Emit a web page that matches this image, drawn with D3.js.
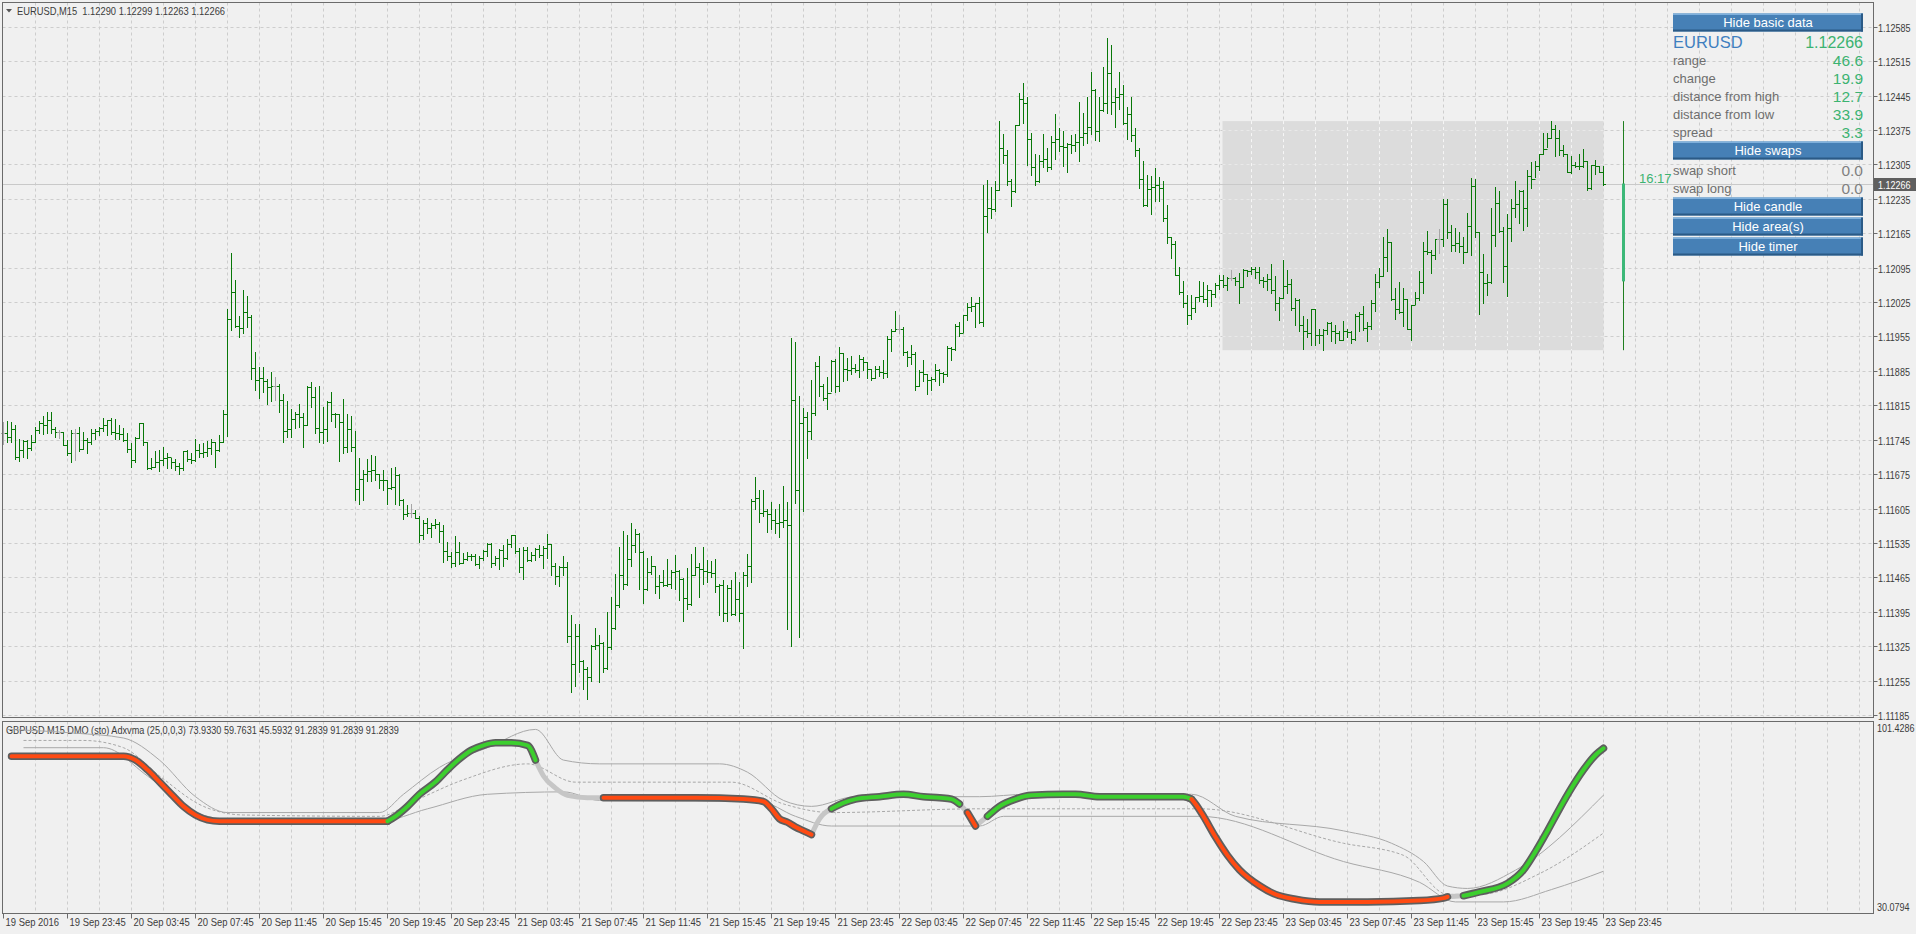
<!DOCTYPE html>
<html><head><meta charset="utf-8">
<script src="https://cdn.jsdelivr.net/npm/d3@7"></script>
<style>
body{margin:0;background:#f0f0f0;overflow:hidden}
.ax{font-family:"Liberation Sans",Arial,sans-serif;font-size:11px;fill:#3c3c3c}
.pn{font-family:"Liberation Sans",Arial,sans-serif}
</style></head><body>
<svg id="c" width="1916" height="934"></svg>
<script>
// ---------- DATA ----------
const symbolTitle = "EURUSD,M15\u00a0\u00a01.12290 1.12299 1.12263 1.12266";
const indTitle = "GBPUSD M15 DMO (sto) Adxvma (25,0,0,3) 73.9330 59.7631 45.5932 91.2839 91.2839 91.2839";
const priceTicks = [1.12585,1.12515,1.12445,1.12375,1.12305,1.12235,1.12165,1.12095,1.12025,1.11955,1.11885,1.11815,1.11745,1.11675,1.11605,1.11535,1.11465,1.11395,1.11325,1.11255,1.11185];
const timeLabels = ["19 Sep 2016","19 Sep 23:45","20 Sep 03:45","20 Sep 07:45","20 Sep 11:45","20 Sep 15:45","20 Sep 19:45","20 Sep 23:45","21 Sep 03:45","21 Sep 07:45","21 Sep 11:45","21 Sep 15:45","21 Sep 19:45","21 Sep 23:45","22 Sep 03:45","22 Sep 07:45","22 Sep 11:45","22 Sep 15:45","22 Sep 19:45","22 Sep 23:45","23 Sep 03:45","23 Sep 07:45","23 Sep 11:45","23 Sep 15:45","23 Sep 19:45","23 Sep 23:45"];
const timeLabelBars = [0,16,32,48,64,80,96,112,128,144,160,176,192,208,224,240,256,272,288,304,320,336,352,368,384,400];

const barHigh = [1.11781,1.11783,1.11781,1.11775,1.11746,1.11745,1.11744,1.11754,1.11771,1.11784,1.11793,1.11801,1.11801,1.11771,1.11765,1.11760,1.11744,1.11765,1.11767,1.11771,1.11761,1.11749,1.11767,1.11767,1.11771,1.11789,1.11786,1.11790,1.11787,1.11775,1.11768,1.11759,1.11739,1.11750,1.11779,1.11779,1.11740,1.11707,1.11721,1.11724,1.11730,1.11717,1.11708,1.11706,1.11697,1.11722,1.11724,1.11717,1.11746,1.11736,1.11738,1.11743,1.11747,1.11741,1.11754,1.11805,1.12010,1.12124,1.12070,1.11996,1.12049,1.12038,1.11998,1.11923,1.11892,1.11893,1.11868,1.11882,1.11872,1.11858,1.11838,1.11823,1.11807,1.11802,1.11817,1.11800,1.11854,1.11862,1.11853,1.11854,1.11811,1.11823,1.11842,1.11800,1.11798,1.11828,1.11797,1.11793,1.11763,1.11707,1.11683,1.11705,1.11714,1.11712,1.11676,1.11683,1.11664,1.11687,1.11689,1.11676,
1.11625,1.11613,1.11615,1.11601,1.11589,1.11582,1.11586,1.11575,1.11583,1.11577,1.11571,1.11536,1.11516,1.11550,1.11536,1.11515,1.11517,1.11513,1.11513,1.11508,1.11520,1.11535,1.11535,1.11509,1.11522,1.11531,1.11543,1.11552,1.11552,1.11525,1.11527,1.11527,1.11516,1.11525,1.11530,1.11529,1.11554,1.11533,1.11494,1.11489,1.11509,1.11496,1.11388,1.11371,1.11371,1.11296,1.11283,1.11328,1.11362,1.11347,1.11333,1.11394,1.11425,1.11471,1.11527,1.11559,1.11552,1.11576,1.11563,1.11556,1.11518,1.11505,1.11509,1.11489,1.11469,1.11479,1.11502,1.11479,1.11510,1.11480,1.11464,1.11485,1.11513,1.11527,1.11495,1.11527,1.11500,1.11498,1.11502,1.11452,1.11460,1.11449,1.11460,1.11475,1.11456,1.11475,1.11513,1.11625,1.11669,1.11643,1.11643,1.11605,1.11618,1.11603,1.11615,1.11650,1.11618,1.11952,1.11944,1.11833,
1.11809,1.11801,1.11867,1.11902,1.11915,1.11859,1.11873,1.11907,1.11910,1.11934,1.11921,1.11911,1.11915,1.11899,1.11917,1.11913,1.11903,1.11889,1.11895,1.11895,1.11907,1.11955,1.11971,1.12006,1.11999,1.11974,1.11925,1.11937,1.11923,1.11886,1.11907,1.11879,1.11873,1.11899,1.11889,1.11883,1.11935,1.11933,1.11980,1.11984,1.11999,1.12024,1.12035,1.12024,1.12035,1.12263,1.12274,1.12258,1.12271,1.12394,1.12367,1.12335,1.12276,1.12385,1.12450,1.12471,1.12441,1.12369,1.12327,1.12324,1.12367,1.12338,1.12362,1.12407,1.12378,1.12373,1.12348,1.12364,1.12366,1.12431,1.12410,1.12442,1.12492,1.12458,1.12442,1.12503,1.12561,1.12548,1.12461,1.12492,1.12467,1.12421,1.12442,1.12378,1.12338,1.12312,1.12284,1.12282,1.12298,1.12280,1.12271,1.12222,1.12158,1.12150,1.12096,1.12068,1.12040,1.12040,1.12035,1.12067,
1.12066,1.12059,1.12050,1.12064,1.12079,1.12079,1.12076,1.12091,1.12076,1.12085,1.12093,1.12091,1.12096,1.12097,1.12096,1.12076,1.12082,1.12103,1.12077,1.12035,1.12110,1.12091,1.12072,1.12034,1.12031,1.11996,1.11990,1.12011,1.12011,1.11970,1.11970,1.11985,1.11984,1.11979,1.11967,1.11986,1.11970,1.11967,1.12001,1.12004,1.12016,1.11984,1.12030,1.12082,1.12095,1.12158,1.12174,1.12147,1.12053,1.12065,1.12054,1.12032,1.12019,1.12046,1.12089,1.12147,1.12169,1.12131,1.12154,1.12173,1.12234,1.12234,1.12181,1.12176,1.12167,1.12157,1.12207,1.12278,1.12275,1.12167,1.12122,1.12082,1.12217,1.12259,1.12251,1.12177,1.12205,1.12235,1.12271,1.12252,1.12252,1.12294,1.12310,1.12312,1.12327,1.12369,1.12369,1.12393,1.12385,1.12374,1.12344,1.12327,1.12323,1.12310,1.12327,1.12337,1.12311,1.12304,1.12314,1.12301,
1.12301];

const barLow = [1.11737,1.11740,1.11741,1.11705,1.11702,1.11709,1.11708,1.11725,1.11740,1.11758,1.11756,1.11759,1.11758,1.11751,1.11748,1.11735,1.11713,1.11700,1.11703,1.11721,1.11726,1.11718,1.11737,1.11746,1.11755,1.11763,1.11754,1.11757,1.11746,1.11746,1.11743,1.11720,1.11690,1.11700,1.11748,1.11735,1.11685,1.11685,1.11690,1.11682,1.11694,1.11688,1.11688,1.11683,1.11676,1.11683,1.11701,1.11698,1.11701,1.11709,1.11709,1.11712,1.11716,1.11690,1.11722,1.11740,1.11752,1.11969,1.11975,1.11953,1.11962,1.11975,1.11869,1.11846,1.11830,1.11842,1.11817,1.11823,1.11826,1.11802,1.11741,1.11750,1.11751,1.11768,1.11770,1.11731,1.11775,1.11812,1.11759,1.11740,1.11739,1.11743,1.11784,1.11771,1.11701,1.11718,1.11720,1.11721,1.11622,1.11615,1.11622,1.11661,1.11660,1.11663,1.11646,1.11642,1.11615,1.11644,1.11615,1.11612,
1.11584,1.11589,1.11588,1.11586,1.11537,1.11543,1.11556,1.11548,1.11566,1.11537,1.11496,1.11500,1.11486,1.11488,1.11493,1.11494,1.11500,1.11500,1.11491,1.11483,1.11501,1.11508,1.11486,1.11490,1.11482,1.11489,1.11502,1.11527,1.11514,1.11476,1.11462,1.11498,1.11498,1.11500,1.11506,1.11485,1.11505,1.11470,1.11451,1.11448,1.11470,1.11333,1.11232,1.11245,1.11272,1.11238,1.11218,1.11255,1.11320,1.11252,1.11272,1.11278,1.11320,1.11360,1.11405,1.11442,1.11450,1.11489,1.11516,1.11442,1.11413,1.11440,1.11472,1.11433,1.11423,1.11447,1.11448,1.11443,1.11442,1.11418,1.11376,1.11401,1.11409,1.11469,1.11425,1.11451,1.11455,1.11466,1.11435,1.11388,1.11377,1.11376,1.11388,1.11389,1.11377,1.11321,1.11447,1.11455,1.11603,1.11577,1.11590,1.11557,1.11564,1.11555,1.11547,1.11567,1.11360,1.11325,1.11616,1.11344,
1.11600,1.11708,1.11747,1.11795,1.11833,1.11825,1.11807,1.11843,1.11841,1.11843,1.11865,1.11867,1.11879,1.11883,1.11873,1.11886,1.11870,1.11867,1.11870,1.11874,1.11871,1.11873,1.11926,1.11967,1.11961,1.11918,1.11895,1.11899,1.11847,1.11854,1.11865,1.11838,1.11846,1.11865,1.11857,1.11863,1.11875,1.11907,1.11927,1.11956,1.11964,1.11988,1.12006,1.11974,1.11982,1.11976,1.12168,1.12196,1.12210,1.12252,1.12308,1.12263,1.12221,1.12248,1.12385,1.12389,1.12304,1.12284,1.12264,1.12269,1.12300,1.12292,1.12295,1.12316,1.12332,1.12302,1.12290,1.12328,1.12332,1.12312,1.12344,1.12348,1.12367,1.12354,1.12352,1.12413,1.12409,1.12407,1.12382,1.12417,1.12388,1.12356,1.12352,1.12322,1.12256,1.12220,1.12220,1.12204,1.12231,1.12231,1.12190,1.12146,1.12115,1.12080,1.12041,1.12015,1.11981,1.11991,1.12005,1.12028,
1.12025,1.12016,1.12016,1.12035,1.12051,1.12055,1.12049,1.12069,1.12059,1.12023,1.12055,1.12078,1.12082,1.12074,1.12064,1.12055,1.12049,1.12043,1.12008,1.11988,1.12034,1.12043,1.12009,1.11979,1.11967,1.11929,1.11954,1.11937,1.11937,1.11941,1.11927,1.11960,1.11945,1.11941,1.11947,1.11947,1.11954,1.11941,1.11947,1.11967,1.11968,1.11945,1.11971,1.12006,1.12055,1.12077,1.12088,1.12030,1.11990,1.12002,1.11977,1.11970,1.11947,1.12020,1.12030,1.12043,1.12122,1.12084,1.12113,1.12125,1.12138,1.12156,1.12129,1.12129,1.12127,1.12104,1.12127,1.12120,1.12157,1.12001,1.12024,1.12040,1.12064,1.12139,1.12167,1.12066,1.12038,1.12150,1.12198,1.12186,1.12171,1.12179,1.12257,1.12279,1.12294,1.12327,1.12340,1.12359,1.12323,1.12325,1.12321,1.12289,1.12287,1.12299,1.12296,1.12299,1.12253,1.12255,1.12286,1.12289,
1.12264];

const barClose = [1.11759,1.11750,1.11767,1.11710,1.11723,1.11743,1.11729,1.11740,1.11764,1.11778,1.11775,1.11786,1.11766,1.11760,1.11760,1.11735,1.11718,1.11759,1.11759,1.11727,1.11744,1.11741,1.11758,1.11763,1.11769,1.11774,1.11785,1.11760,1.11759,1.11756,1.11744,1.11727,1.11703,1.11748,1.11778,1.11740,1.11687,1.11690,1.11700,1.11703,1.11707,1.11709,1.11699,1.11691,1.11687,1.11721,1.11705,1.11703,1.11725,1.11717,1.11720,1.11729,1.11741,1.11724,1.11741,1.11797,1.11990,1.12046,1.11976,1.11973,1.12005,1.11995,1.11890,1.11866,1.11871,1.11864,1.11852,1.11855,1.11855,1.11825,1.11762,1.11766,1.11788,1.11798,1.11792,1.11775,1.11852,1.11831,1.11768,1.11760,1.11767,1.11821,1.11798,1.11797,1.11780,1.11731,1.11767,1.11731,1.11644,1.11665,1.11676,1.11682,1.11683,1.11675,1.11663,1.11664,1.11646,1.11649,1.11674,1.11622,
1.11594,1.11596,1.11596,1.11586,1.11552,1.11576,1.11565,1.11572,1.11573,1.11560,1.11519,1.11509,1.11495,1.11516,1.11495,1.11503,1.11509,1.11508,1.11493,1.11505,1.11518,1.11533,1.11495,1.11505,1.11521,1.11505,1.11532,1.11551,1.11518,1.11486,1.11520,1.11500,1.11511,1.11523,1.11511,1.11525,1.11532,1.11489,1.11467,1.11486,1.11487,1.11345,1.11289,1.11345,1.11294,1.11279,1.11262,1.11326,1.11328,1.11331,1.11280,1.11323,1.11362,1.11408,1.11469,1.11452,1.11503,1.11531,1.11554,1.11516,1.11442,1.11475,1.11489,1.11447,1.11455,1.11449,1.11451,1.11476,1.11478,1.11462,1.11423,1.11411,1.11470,1.11486,1.11482,1.11478,1.11476,1.11473,1.11447,1.11449,1.11393,1.11444,1.11391,1.11421,1.11393,1.11469,1.11489,1.11620,1.11627,1.11596,1.11599,1.11594,1.11581,1.11575,1.11577,1.11581,1.11571,1.11826,1.11643,1.11779,
1.11791,1.11763,1.11799,1.11895,1.11855,1.11830,1.11839,1.11905,1.11855,1.11921,1.11889,1.11886,1.11890,1.11886,1.11910,1.11903,1.11889,1.11870,1.11889,1.11882,1.11881,1.11949,1.11967,1.11970,1.11970,1.11923,1.11913,1.11919,1.11854,1.11882,1.11878,1.11867,1.11868,1.11886,1.11881,1.11879,1.11931,1.11929,1.11977,1.11963,1.11998,1.12014,1.12017,1.12022,1.11985,1.12199,1.12216,1.12215,1.12253,1.12338,1.12324,1.12272,1.12250,1.12385,1.12437,1.12429,1.12356,1.12300,1.12272,1.12312,1.12316,1.12300,1.12351,1.12356,1.12343,1.12340,1.12346,1.12344,1.12351,1.12360,1.12369,1.12380,1.12457,1.12373,1.12415,1.12429,1.12490,1.12431,1.12441,1.12449,1.12389,1.12407,1.12365,1.12334,1.12275,1.12222,1.12255,1.12258,1.12263,1.12256,1.12195,1.12157,1.12144,1.12080,1.12045,1.12023,1.11998,1.12013,1.12035,1.12037,
1.12032,1.12049,1.12042,1.12059,1.12070,1.12059,1.12074,1.12074,1.12068,1.12055,1.12091,1.12088,1.12093,1.12086,1.12070,1.12068,1.12071,1.12049,1.12024,1.12034,1.12057,1.12062,1.12013,1.12030,1.11979,1.11967,1.11962,1.12011,1.11958,1.11957,1.11968,1.11983,1.11967,1.11962,1.11948,1.11967,1.11965,1.11949,1.11997,1.12001,1.11972,1.11976,1.12022,1.12065,1.12077,1.12116,1.12147,1.12032,1.12011,1.12004,1.12032,1.11971,1.12019,1.12034,1.12066,1.12128,1.12126,1.12121,1.12154,1.12154,1.12225,1.12167,1.12141,1.12145,1.12139,1.12127,1.12179,1.12261,1.12167,1.12087,1.12064,1.12066,1.12162,1.12227,1.12169,1.12099,1.12176,1.12217,1.12225,1.12251,1.12216,1.12282,1.12276,1.12301,1.12327,1.12336,1.12359,1.12377,1.12359,1.12335,1.12327,1.12290,1.12303,1.12301,1.12302,1.12311,1.12257,1.12303,1.12302,1.12289,
1.12266];

const barOpen = [1.11759,1.11759,1.11750,1.11767,1.11710,1.11723,1.11743,1.11729,1.11740,1.11764,1.11778,1.11775,1.11786,1.11766,1.11760,1.11760,1.11735,1.11718,1.11759,1.11759,1.11727,1.11744,1.11741,1.11758,1.11763,1.11769,1.11774,1.11785,1.11760,1.11759,1.11756,1.11744,1.11727,1.11703,1.11748,1.11778,1.11740,1.11687,1.11690,1.11700,1.11703,1.11707,1.11709,1.11699,1.11691,1.11687,1.11721,1.11705,1.11703,1.11725,1.11717,1.11720,1.11729,1.11741,1.11724,1.11741,1.11797,1.11990,1.12046,1.11976,1.11973,1.12005,1.11995,1.11890,1.11866,1.11871,1.11864,1.11852,1.11855,1.11855,1.11825,1.11762,1.11766,1.11788,1.11798,1.11792,1.11775,1.11852,1.11831,1.11768,1.11760,1.11767,1.11821,1.11798,1.11797,1.11780,1.11731,1.11767,1.11731,1.11644,1.11665,1.11676,1.11682,1.11683,1.11675,1.11663,1.11664,1.11646,1.11649,1.11674,
1.11622,1.11594,1.11596,1.11596,1.11586,1.11552,1.11576,1.11565,1.11572,1.11573,1.11560,1.11519,1.11509,1.11495,1.11516,1.11495,1.11503,1.11509,1.11508,1.11493,1.11505,1.11518,1.11533,1.11495,1.11505,1.11521,1.11505,1.11532,1.11551,1.11518,1.11486,1.11520,1.11500,1.11511,1.11523,1.11511,1.11525,1.11532,1.11489,1.11467,1.11486,1.11487,1.11345,1.11289,1.11345,1.11294,1.11279,1.11262,1.11326,1.11328,1.11331,1.11280,1.11323,1.11362,1.11408,1.11469,1.11452,1.11503,1.11531,1.11554,1.11516,1.11442,1.11475,1.11489,1.11447,1.11455,1.11449,1.11451,1.11476,1.11478,1.11462,1.11423,1.11411,1.11470,1.11486,1.11482,1.11478,1.11476,1.11473,1.11447,1.11449,1.11393,1.11444,1.11391,1.11421,1.11393,1.11469,1.11489,1.11620,1.11627,1.11596,1.11599,1.11594,1.11581,1.11575,1.11577,1.11581,1.11571,1.11826,1.11643,
1.11779,1.11791,1.11763,1.11799,1.11895,1.11855,1.11830,1.11839,1.11905,1.11855,1.11921,1.11889,1.11886,1.11890,1.11886,1.11910,1.11903,1.11889,1.11870,1.11889,1.11882,1.11881,1.11949,1.11967,1.11970,1.11970,1.11923,1.11913,1.11919,1.11854,1.11882,1.11878,1.11867,1.11868,1.11886,1.11881,1.11879,1.11931,1.11929,1.11977,1.11963,1.11998,1.12014,1.12017,1.12022,1.11985,1.12199,1.12216,1.12215,1.12253,1.12338,1.12324,1.12272,1.12250,1.12385,1.12437,1.12429,1.12356,1.12300,1.12272,1.12312,1.12316,1.12300,1.12351,1.12356,1.12343,1.12340,1.12346,1.12344,1.12351,1.12360,1.12369,1.12380,1.12457,1.12373,1.12415,1.12429,1.12490,1.12431,1.12441,1.12449,1.12389,1.12407,1.12365,1.12334,1.12275,1.12222,1.12255,1.12258,1.12263,1.12256,1.12195,1.12157,1.12144,1.12080,1.12045,1.12023,1.11998,1.12013,1.12035,
1.12037,1.12032,1.12049,1.12042,1.12059,1.12070,1.12059,1.12074,1.12074,1.12068,1.12055,1.12091,1.12088,1.12093,1.12086,1.12070,1.12068,1.12071,1.12049,1.12024,1.12034,1.12057,1.12062,1.12013,1.12030,1.11979,1.11967,1.11962,1.12011,1.11958,1.11957,1.11968,1.11983,1.11967,1.11962,1.11948,1.11967,1.11965,1.11949,1.11997,1.12001,1.11972,1.11976,1.12022,1.12065,1.12077,1.12116,1.12147,1.12032,1.12011,1.12004,1.12032,1.11971,1.12019,1.12034,1.12066,1.12128,1.12126,1.12121,1.12154,1.12154,1.12225,1.12167,1.12141,1.12145,1.12139,1.12127,1.12179,1.12261,1.12167,1.12087,1.12064,1.12066,1.12162,1.12227,1.12169,1.12099,1.12176,1.12217,1.12225,1.12251,1.12216,1.12282,1.12276,1.12301,1.12327,1.12336,1.12359,1.12377,1.12359,1.12335,1.12327,1.12290,1.12303,1.12301,1.12302,1.12311,1.12257,1.12303,1.12302,
1.12289];

// daily candle / area (today)
const dayBar = 405, areaFromBar = 305, areaToBar = 400;
const dayOpen = 1.12067, dayHigh = 1.12393, dayLow = 1.11927, dayClose = 1.12266;
const bidPrice = 1.12266;
const timerText = "16:17";

// info panel
const infoLabels = ["range","change","distance from high","distance from low","spread"];
const infoValues = ["46.6","19.9","12.7","33.9","3.3"];
const swapLabels = ["swap short","swap long"];
const swapValues = ["0.0","0.0"];

// indicator scale
const indMax = 101.4286, indMin = 30.0794;

// indicator (DMO) main line: bar index, value, state (1 up, -1 down, 0 neutral)
const dmoBar = [2,30,33,36,39,42,45,48,51,54,96, 98,101,104,108,111,114,117,120,123,127,131,133, 135,138,141,146,150, 173,185,190,192,194,196,198,200,202, 204,207, 210,213,219,225,230,234,237,239, 241, 243, 246, 249,253,257,265,268,274,295,297, 298,300,303,306,309,314,318,323,329,341,354,360,361, 365, 369,376,380,383,386,389,392,395,398,400];
const dmoVal = [88.3,88.3,86.9,83.3,78.8,74.2,69.7,66.5,64.7,64.2,64.2, 66.0,69.7,74.2,78.8,83.3,87.4,90.6,92.4,93.3,93.3,92.4,86.9, 81.0,76.5,73.8,72.9,72.9, 72.9,72.4,71.5,68.8,65.1,63.8,62.0,60.6,59.2, 65.1,68.8, 71.0,72.4,73.3,74.2,73.3,72.9,72.4,70.6, 67.4, 62.4, 66.0, 69.7,72.4,73.8,74.2,74.2,73.3,73.3,72.4, 70.6,66.0,58.3,51.5,46.1,40.2,37.0,35.2,34.2,34.2,34.7,35.6,36.1, 36.5, 37.9,41.1,46.1,52.9,60.6,68.8,76.5,83.3,88.8,91.3];
const dmoState = [-1,-1,-1,-1,-1,-1,-1,-1,-1,-1,-1, 1,1,1,1,1,1,1,1,1,1,1,1, 0,0,0,0,0, -1,-1,-1,-1,-1,-1,-1,-1,-1, 0,0, 1,1,1,1,1,1,1,1, 0, -1, 0, 1,1,1,1,1,1,1,1, -1,-1,-1,-1,-1,-1,-1,-1,-1,-1,-1,-1,-1, 0, 1,1,1,1,1,1,1,1,1,1];

// thin band lines (bar index, value)
const bandUpBar = [1,18,30,39,48,56,94,100,109,121,133,140,149,179,186,195,202,213,244,256,297,308,335,347,355,361,366,378,400];
const bandUpVal = [98.3,96.9,95.1,86.9,73.3,67.4,67.4,74.2,84.2,91.5,98.3,86.9,85.5,85.5,82.4,71.9,69.7,73.3,73.3,74.2,74.2,66.0,60.6,56.0,49.2,40.1,39.2,46.0,73.9];
const bandMidBar = [5,20,30,39,50,60,94,103,115,131,143,182,195,207,244,299,335,350,361,369,384,400];
const bandMidVal = [94.2,94.2,91.5,81.0,69.7,66.5,66.0,71.9,79.6,85.5,78.7,78.7,70.6,67.4,68.8,68.8,56.0,51.5,37.0,37.0,44.7,59.8];
const bandLoBar = [5,25,36,48,60,94,106,121,140,149,189,198,207,244,250,299,335,354,363,375,387,400];
const bandLoVal = [91.5,91.5,81.0,67.4,64.2,64.2,68.8,74.2,75.1,71.9,71.5,66.0,62.4,62.4,66.0,66.0,49.2,41.5,34.2,34.2,38.8,45.6];

// ---------- DRAW ----------
const svg = d3.select("#c");
svg.append("rect").attr("width",1916).attr("height",934).attr("fill","#f0f0f0");
const L = 2.5, R = 1873.5, T = 2.5, B = 717.5, IT = 721.5, IB = 913.5;
const x = d3.scaleLinear().domain([0,400]).range([3.5,1603.5]);
const y = d3.scaleLinear().domain([1.11185,1.12585]).range([715,26.7]);
const yi = d3.scaleLinear().domain([indMin,indMax]).range([913,721]);
const gridColor = "#cdcdcd";

// condensed axis text helper
function axText(parent, tx, ty, str, sx, fill) {
  return parent.append("text").attr("class","ax")
    .attr("transform",`translate(${tx},${ty}) scale(${sx},1)`)
    .style("fill", fill || "#3c3c3c").text(str);
}

// vertical grid
const vBars = d3.range(8, 472, 8);
const grid = svg.append("g");
vBars.forEach(b => {
  const gx = x(b);
  if (gx > R - 2) return;
  grid.append("line").attr("x1",gx).attr("x2",gx).attr("y1",T).attr("y2",B).attr("stroke",gridColor).attr("stroke-dasharray","3,3");
  grid.append("line").attr("x1",gx).attr("x2",gx).attr("y1",IT).attr("y2",IB).attr("stroke",gridColor).attr("stroke-dasharray","3,3");
});
priceTicks.forEach(p => {
  const gy = Math.round(y(p)) + 0.5;
  grid.append("line").attr("x1",L).attr("x2",R).attr("y1",gy).attr("y2",gy).attr("stroke",gridColor).attr("stroke-dasharray","3,3");
});

// area rectangle (today's range)
const ax0 = x(areaFromBar) - 1, ax1 = x(areaToBar);
const ay0 = y(dayHigh), ay1 = y(dayLow);
svg.append("rect").attr("x",ax0).attr("y",ay0).attr("width",ax1-ax0).attr("height",ay1-ay0).attr("fill","#dcdcdc");
vBars.forEach(b => {
  const gx = x(b);
  if (gx <= ax0 || gx >= ax1) return;
  svg.append("line").attr("x1",gx).attr("x2",gx).attr("y1",ay0).attr("y2",ay1).attr("stroke","#f6f6f6").attr("stroke-dasharray","3,3");
});
priceTicks.forEach(p => {
  const gy = Math.round(y(p)) + 0.5;
  if (gy < ay0 || gy > ay1) return;
  svg.append("line").attr("x1",ax0).attr("x2",ax1).attr("y1",gy).attr("y2",gy).attr("stroke","#e9e9e9").attr("stroke-dasharray","3,3");
});

// bid line
const by = Math.round(y(bidPrice)) + 0.5;
svg.append("line").attr("x1",L).attr("x2",R).attr("y1",by).attr("y2",by).attr("stroke","#c9c9c9");

// OHLC bars
const bars = svg.append("g");
barClose.forEach((c,i) => {
  const bx = x(i);
  const col = (barOpen[i] === c) ? "#a6a6a6" : "#087808";
  const yo = Math.round(y(barOpen[i])) + 0.5, yc = Math.round(y(c)) + 0.5;
  bars.append("line").attr("x1",bx).attr("x2",bx).attr("y1",Math.round(y(barHigh[i]))).attr("y2",Math.round(y(barLow[i]))+1).attr("stroke",col).attr("stroke-width",1);
  bars.append("line").attr("x1",bx-2.5).attr("x2",bx).attr("y1",yo).attr("y2",yo).attr("stroke",col);
  bars.append("line").attr("x1",bx).attr("x2",bx+2.5).attr("y1",yc).attr("y2",yc).attr("stroke",col);
});

// daily candle
const dx = x(dayBar);
svg.append("line").attr("x1",dx).attr("x2",dx).attr("y1",y(dayHigh)).attr("y2",y(dayLow)).attr("stroke","#1f7f1f");
svg.append("rect").attr("x",dx-1.5).attr("y",y(dayClose)).attr("width",3).attr("height",y(dayOpen)-y(dayClose)).attr("fill","#3cb878");
svg.append("text").attr("class","pn").attr("x",1639).attr("y",182.5).attr("font-size",13).attr("fill","#3cb371").text(timerText);

// frames
svg.append("rect").attr("x",L).attr("y",T).attr("width",R-L).attr("height",B-T).attr("fill","none").attr("stroke","#6b6b6b");
svg.append("rect").attr("x",L).attr("y",IT).attr("width",R-L).attr("height",IB-IT).attr("fill","none").attr("stroke","#6b6b6b");

// price axis
priceTicks.forEach(p => {
  const gy = Math.round(y(p)) + 0.5;
  svg.append("line").attr("x1",R).attr("x2",R+4).attr("y1",gy).attr("y2",gy).attr("stroke","#6b6b6b");
  axText(svg, 1878, gy+4, d3.format(".5f")(p), 0.82);
});
svg.append("rect").attr("x",1874).attr("y",by-6.5).attr("width",42).attr("height",13).attr("fill","#5f5f5f");
axText(svg, 1878, by+4, d3.format(".5f")(bidPrice), 0.82, "#ffffff");

// indicator scale labels
axText(svg, 1877, yi(indMax)+11, "101.4286", 0.82);
axText(svg, 1877, yi(indMin)-2, "30.0794", 0.82);

// time axis
timeLabelBars.forEach((b,k) => {
  const tx = x(b);
  svg.append("line").attr("x1",tx).attr("x2",tx).attr("y1",IB).attr("y2",IB+5).attr("stroke","#6b6b6b");
  axText(svg, tx+2, 926, timeLabels[k], 0.86);
});

// titles
svg.append("path").attr("d","M6,9 L12,9 L9,12.5 Z").attr("fill","#555");
axText(svg, 17, 15, symbolTitle, 0.85);
axText(svg, 6, 734, indTitle, 0.83);

// indicator bands
const bl = d3.line().x(d=>x(d[0])).y(d=>yi(d[1])).curve(d3.curveMonotoneX);
svg.append("path").attr("d",bl(bandUpBar.map((b,k)=>[b,bandUpVal[k]]))).attr("fill","none").attr("stroke","#a8a8a8");
svg.append("path").attr("d",bl(bandMidBar.map((b,k)=>[b,bandMidVal[k]]))).attr("fill","none").attr("stroke","#a8a8a8").attr("stroke-dasharray","3,2");
svg.append("path").attr("d",bl(bandLoBar.map((b,k)=>[b,bandLoVal[k]]))).attr("fill","none").attr("stroke","#a8a8a8");

// DMO thick line grouped by state
const groups = [];
dmoBar.forEach((b,k) => {
  const pt = [b, dmoVal[k]];
  const st = dmoState[k];
  if (!groups.length || groups[groups.length-1].st !== st) {
    const g = {st, pts: []};
    if (groups.length) { const pg = groups[groups.length-1]; g.pts.push(pg.pts[pg.pts.length-1]); }
    groups.push(g);
  }
  groups[groups.length-1].pts.push(pt);
});
const gInd = svg.append("g");
groups.filter(g=>g.st===0).forEach(g => gInd.append("path").attr("d",bl(g.pts)).attr("fill","none").attr("stroke","#c6c6c6").attr("stroke-width",5).attr("stroke-linecap","round"));
groups.filter(g=>g.st!==0).forEach(g => gInd.append("path").attr("d",bl(g.pts)).attr("fill","none").attr("stroke","#5e5e5e").attr("stroke-width",7.5).attr("stroke-linecap","round").attr("stroke-linejoin","round"));
groups.filter(g=>g.st!==0).forEach(g => gInd.append("path").attr("d",bl(g.pts)).attr("fill","none").attr("stroke",g.st>0?"#3ccf2e":"#ff4a12").attr("stroke-width",4).attr("stroke-linecap","round").attr("stroke-linejoin","round"));

// info panel
const panel = svg.append("g").attr("class","pn");
function button(y0, label) {
  panel.append("rect").attr("x",1673).attr("y",y0).attr("width",190).attr("height",18).attr("fill","#4680b6");
  panel.append("rect").attr("x",1673).attr("y",y0).attr("width",190).attr("height",1.5).attr("fill","#7fb0dc");
  panel.append("rect").attr("x",1673).attr("y",y0+16).attr("width",190).attr("height",2).attr("fill","#2b5a86");
  panel.append("rect").attr("x",1861).attr("y",y0).attr("width",2).attr("height",18).attr("fill","#2b5a86");
  panel.append("text").attr("x",1768).attr("y",y0+13.5).attr("text-anchor","middle").attr("font-size",13).attr("fill","#ffffff").text(label);
}
button(13.5,"Hide basic data");
panel.append("text").attr("x",1673).attr("y",48).attr("font-size",16.5).attr("fill","#3f7fbf").text("EURUSD");
panel.append("text").attr("x",1863).attr("y",48).attr("text-anchor","end").attr("font-size",16).attr("fill","#3cb371").text(d3.format(".5f")(bidPrice));
infoLabels.forEach((t,k) => {
  const yy = 65 + k*17.9;
  panel.append("text").attr("x",1673).attr("y",yy).attr("font-size",13).attr("fill","#6e6e6e").text(t);
  panel.append("text").attr("x",1863).attr("y",yy+1).attr("text-anchor","end").attr("font-size",15.5).attr("fill","#3cb371").text(infoValues[k]);
});
button(141.5,"Hide swaps");
swapLabels.forEach((t,k) => {
  const yy = 175 + k*18;
  panel.append("text").attr("x",1673).attr("y",yy).attr("font-size",13).attr("fill","#6e6e6e").text(t);
  panel.append("text").attr("x",1863).attr("y",yy+1).attr("text-anchor","end").attr("font-size",15.5).attr("fill","#808080").text(swapValues[k]);
});
button(197.5,"Hide candle");
button(217.5,"Hide area(s)");
button(237.5,"Hide timer");
</script></body></html>
